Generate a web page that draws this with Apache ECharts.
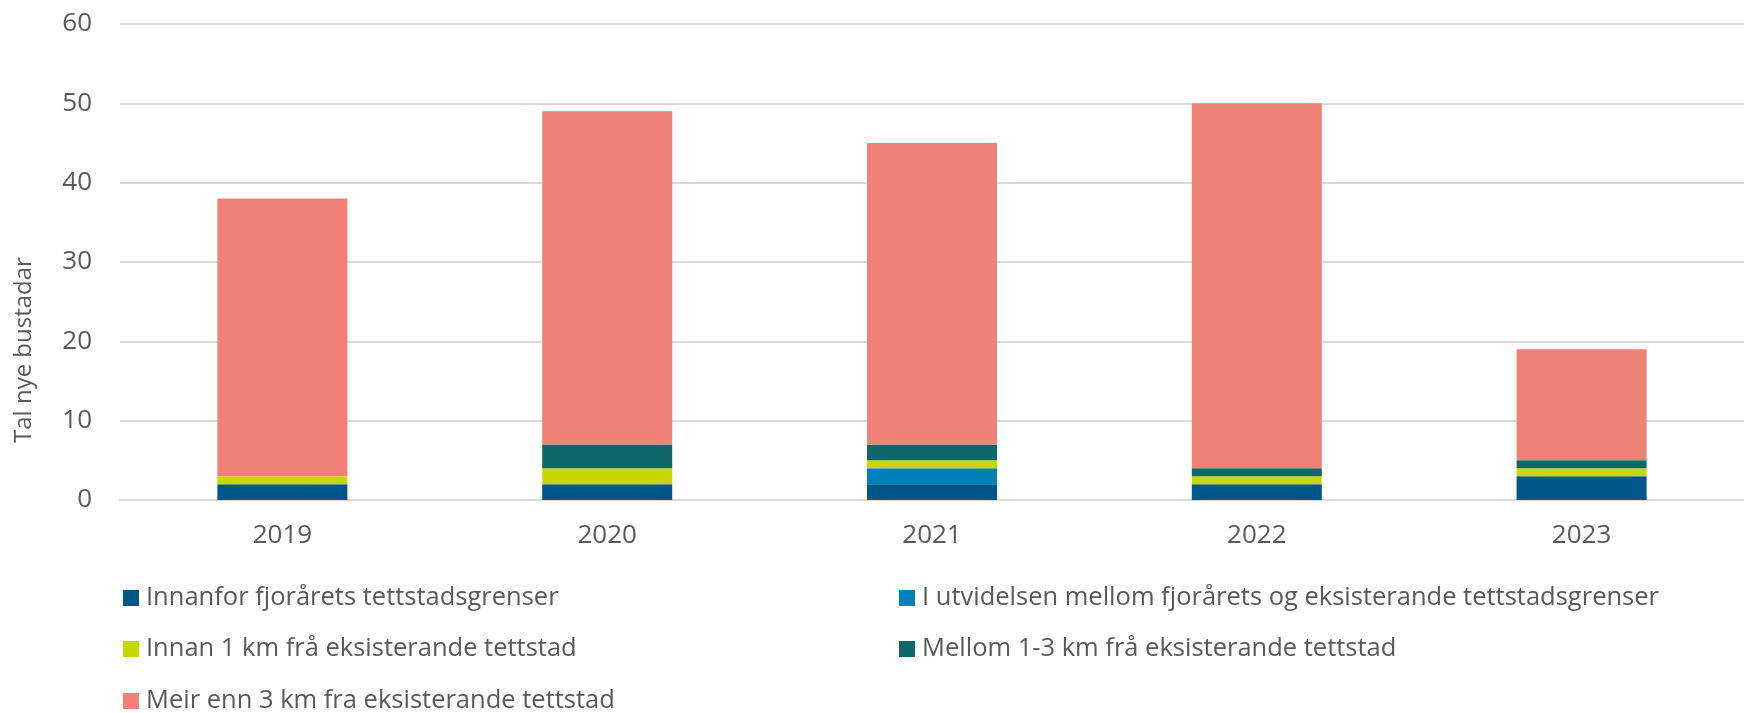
<!DOCTYPE html>
<html>
<head>
<meta charset="utf-8">
<script src="https://cdn.jsdelivr.net/npm/echarts@6/dist/echarts.min.js"></script>
<style>html,body{margin:0;padding:0;background:#fff}#c{width:1744px;height:713px}</style>
</head>
<body>
<div id="c"></div>
<script>
const categories = ['2019', '2020', '2021', '2022', '2023'];
const seriesNames = [
  'Innanfor fjorårets tettstadsgrenser',
  'I utvidelsen mellom fjorårets og eksisterande tettstadsgrenser',
  'Innan 1 km frå eksisterande tettstad',
  'Mellom 1-3 km frå eksisterande tettstad',
  'Meir enn 3 km fra eksisterande tettstad'
];
const innanfor = [2, 2, 2, 2, 3];
const utvidelsen = [0, 0, 2, 0, 0];
const innan1km = [1, 2, 1, 1, 1];
const mellom13km = [0, 3, 2, 1, 1];
const meir3km = [35, 42, 38, 46, 14];
const yTicks = [0, 10, 20, 30, 40, 50, 60];
const colors = ['#00568A', '#0280BA', '#C5D800', '#10676A', '#F08176'];
const values = [innanfor, utvidelsen, innan1km, mellom13km, meir3km];

const font = '"Open Sans", sans-serif';
// legend slot: [left, centerY]
const legendPos = [[118, 597], [894, 597], [118, 648], [894, 648], [118, 700]];

const chart = echarts.init(document.getElementById('c'));
chart.setOption({
  animation: false,
  grid: { left: 120, right: -8.5, top: 24, bottom: 213 },
  xAxis: {
    type: 'category',
    data: categories,
    axisTick: { show: false },
    axisLine: { lineStyle: { color: '#D9D9D9', width: 2 } },
    axisLabel: { color: '#595959', fontSize: 26, fontFamily: font, margin: 23 }
  },
  yAxis: {
    type: 'value',
    min: yTicks[0],
    max: yTicks[yTicks.length - 1],
    interval: 10,
    axisLine: { show: false },
    axisTick: { show: false },
    splitLine: { lineStyle: { color: '#D9D9D9', width: 2 } },
    axisLabel: { color: '#595959', fontSize: 26, fontFamily: font, margin: 28 }
  },
  graphic: [{
    type: 'text',
    x: 24, y: 350,
    rotation: Math.PI / 2,
    style: {
      text: 'Tal nye bustadar',
      fill: '#595959',
      font: '24px "Open Sans", sans-serif',
      align: 'center',
      verticalAlign: 'middle'
    }
  }],
  legend: seriesNames.map((n, i) => ({
    data: [n],
    orient: 'horizontal',
    left: legendPos[i][0],
    top: legendPos[i][1] - 17,
    itemWidth: 16, itemHeight: 16, icon: 'rect',
    textStyle: { color: '#595959', fontSize: 25.5, fontFamily: font, padding: [0, 0, 0, 2] }
  })),
  series: seriesNames.map((n, i) => ({
    name: n,
    type: 'bar',
    stack: 'total',
    data: values[i],
    barWidth: 130,
    itemStyle: { color: colors[i] }
  }))
});
</script>
</body>
</html>
